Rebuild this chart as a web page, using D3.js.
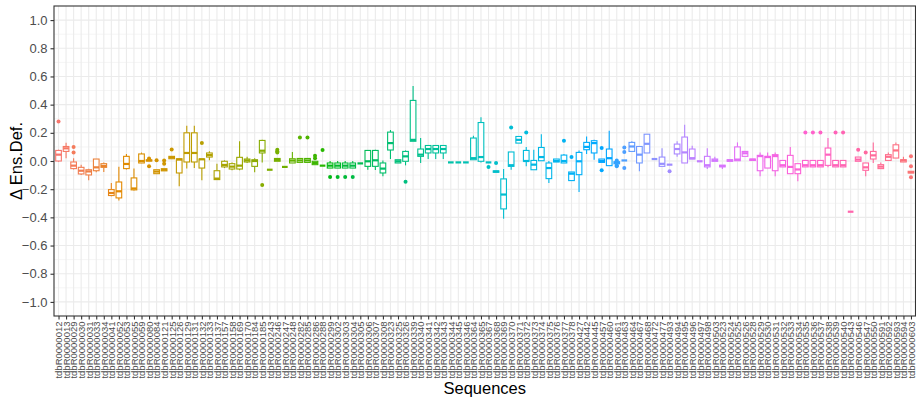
<!DOCTYPE html>
<html>
<head>
<meta charset="utf-8">
<script src="https://cdn.jsdelivr.net/npm/d3@7"></script>
<style>
  body { margin: 0; background: #fff; }
  svg { display: block; font-family: "Liberation Sans", Arial, sans-serif; }
</style>
</head>
<body>
<script>
// sequence ids on the x axis
const categories = [
  "tdbR0000012","tdbR0000013","tdbR0000029","tdbR0000030","tdbR0000031","tdbR0000033","tdbR0000034","tdbR0000041",
  "tdbR0000052","tdbR0000053","tdbR0000055","tdbR0000059","tdbR0000080","tdbR0000084","tdbR0000121","tdbR0000125",
  "tdbR0000126","tdbR0000129","tdbR0000131","tdbR0000132","tdbR0000133","tdbR0000137","tdbR0000157","tdbR0000158",
  "tdbR0000169","tdbR0000170","tdbR0000184","tdbR0000185","tdbR0000243","tdbR0000246","tdbR0000247","tdbR0000248",
  "tdbR0000282","tdbR0000285","tdbR0000286","tdbR0000288","tdbR0000299","tdbR0000302","tdbR0000303","tdbR0000304",
  "tdbR0000305","tdbR0000306","tdbR0000307","tdbR0000308","tdbR0000323","tdbR0000325","tdbR0000326","tdbR0000339",
  "tdbR0000340","tdbR0000341","tdbR0000342","tdbR0000343","tdbR0000344","tdbR0000345","tdbR0000346","tdbR0000364",
  "tdbR0000365","tdbR0000367","tdbR0000368","tdbR0000369","tdbR0000370","tdbR0000371","tdbR0000372","tdbR0000373",
  "tdbR0000374","tdbR0000375","tdbR0000376","tdbR0000377","tdbR0000378","tdbR0000427","tdbR0000442","tdbR0000445",
  "tdbR0000457","tdbR0000460","tdbR0000461","tdbR0000463","tdbR0000464","tdbR0000467","tdbR0000468","tdbR0000472",
  "tdbR0000477","tdbR0000493","tdbR0000494","tdbR0000495","tdbR0000496","tdbR0000497","tdbR0000498","tdbR0000503",
  "tdbR0000523","tdbR0000524","tdbR0000525","tdbR0000526","tdbR0000528","tdbR0000529","tdbR0000530","tdbR0000531",
  "tdbR0000532","tdbR0000533","tdbR0000534","tdbR0000535","tdbR0000536","tdbR0000537","tdbR0000538","tdbR0000539",
  "tdbR0000540","tdbR0000543","tdbR0000546","tdbR0000547","tdbR0000550","tdbR0000591","tdbR0000592","tdbR0000593",
  "tdbR0000594","tdbR0000603"
];

// box statistics, one entry per sequence
const lowerWhisker = [
  -0.005,0.02,-0.06,-0.10,-0.137,-0.08,-0.078,-0.25,-0.281,-0.06,-0.21,-0.015,0.0,-0.09,-0.07,0.016,
  -0.18,-0.054,-0.05,-0.137,0.005,-0.135,-0.05,-0.065,-0.065,-0.015,-0.08,-0.01,-0.062,-0.002,-0.042,-0.014,
  -0.01,-0.01,-0.026,-0.033,-0.05,-0.05,-0.05,-0.05,-0.017,-0.062,-0.064,-0.109,0.014,-0.014,-0.031,0.14,
  -0.014,0.014,0.014,0.014,-0.01,-0.01,-0.01,0.009,-0.01,-0.01,-0.08,-0.41,-0.062,0.127,-0.038,-0.062,
  0.002,-0.156,-0.007,-0.014,-0.139,-0.22,0.05,0.009,-0.01,-0.033,-0.02,0.004,0.068,-0.073,0.057,0.014,
  -0.038,-0.026,0.03,-0.014,0.014,-0.002,-0.057,-0.002,-0.057,-0.002,0.002,0.033,0.004,-0.109,-0.05,-0.109,
  -0.042,-0.09,-0.144,-0.042,-0.042,-0.042,-0.045,-0.042,-0.042,-0.36,-0.002,-0.109,-0.014,-0.054,0.004,0.021,
  -0.007,-0.085
];
const q1 = [
  0.0,0.068,-0.054,-0.092,-0.099,-0.069,-0.045,-0.245,-0.262,-0.054,-0.205,-0.014,0.0,-0.09,-0.07,0.016,
  -0.085,-0.007,-0.007,-0.05,0.028,-0.132,-0.042,-0.057,-0.057,-0.007,-0.038,0.057,-0.062,-0.002,-0.042,-0.014,
  -0.01,-0.01,-0.026,-0.033,-0.05,-0.05,-0.05,-0.05,-0.017,-0.038,-0.038,-0.085,0.078,-0.014,-0.002,0.14,
  0.033,0.057,0.057,0.057,-0.01,-0.01,-0.01,0.009,-0.002,-0.01,-0.08,-0.34,-0.038,0.127,-0.002,-0.062,
  0.002,-0.125,-0.007,-0.014,-0.139,-0.097,0.08,0.057,-0.01,-0.033,-0.02,0.004,0.068,-0.014,0.057,0.014,
  -0.038,-0.026,0.05,-0.014,0.014,-0.002,-0.042,-0.002,-0.042,-0.002,0.002,0.033,0.004,-0.069,-0.05,-0.069,
  -0.042,-0.09,-0.09,-0.042,-0.042,-0.042,-0.031,-0.042,-0.042,-0.36,-0.002,-0.066,0.014,-0.054,0.004,0.021,
  -0.007,-0.085
];
const median = [
  0.045,0.09,-0.033,-0.069,-0.074,-0.045,-0.035,-0.227,-0.215,-0.021,-0.195,0.0,0.004,-0.075,-0.062,0.025,
  0.01,0.057,0.057,0.012,0.042,-0.125,-0.028,-0.04,-0.033,0.004,0.0,0.073,-0.062,0.008,-0.042,0.003,
  0.004,0.004,-0.014,-0.033,-0.033,-0.033,-0.033,-0.033,-0.017,-0.002,0.005,-0.054,0.127,-0.002,0.033,0.15,
  0.045,0.085,0.085,0.085,-0.01,-0.01,-0.01,0.02,0.028,-0.01,-0.075,-0.238,-0.03,0.15,0.0,-0.026,
  0.028,-0.05,0.0,0.0,-0.09,-0.002,0.1,0.127,0.0,0.02,-0.012,0.004,0.103,0.045,0.122,0.014,
  -0.02,-0.026,0.085,0.061,0.02,-0.002,-0.03,0.005,-0.035,0.004,0.01,0.055,0.009,0.035,0.028,0.035,
  -0.03,-0.042,-0.06,-0.03,-0.03,-0.03,0.045,-0.03,-0.03,-0.36,0.01,-0.045,0.04,-0.04,0.03,0.075,
  0.004,-0.08
];
const q3 = [
  0.075,0.103,-0.007,-0.045,-0.062,0.014,-0.019,-0.203,-0.149,0.033,-0.12,0.05,0.008,-0.062,-0.055,0.033,
  0.016,0.2,0.2,0.014,0.057,-0.069,-0.002,-0.019,0.026,0.014,0.009,0.146,-0.062,0.018,-0.042,0.016,
  0.018,0.018,-0.002,-0.033,-0.014,-0.014,-0.014,-0.014,-0.017,0.075,0.075,-0.014,0.205,0.009,0.068,0.43,
  0.085,0.11,0.11,0.11,-0.01,-0.01,-0.01,0.163,0.273,-0.01,-0.07,-0.127,0.064,0.174,0.075,0.004,
  0.096,-0.014,0.014,0.042,-0.078,0.061,0.132,0.144,0.014,0.085,-0.005,0.004,0.132,0.103,0.19,0.014,
  0.028,-0.026,0.12,0.17,0.085,-0.002,0.033,0.014,-0.03,0.009,0.1,0.068,0.014,0.04,0.033,0.045,
  0.004,0.04,-0.019,0.004,0.004,0.004,0.092,0.004,0.004,-0.36,0.028,-0.014,0.068,-0.026,0.045,0.115,
  0.009,-0.073
];
const upperWhisker = [
  0.08,0.13,0.02,-0.026,-0.055,0.014,-0.01,-0.156,-0.04,0.05,-0.054,0.06,0.008,-0.062,-0.055,0.033,
  0.02,0.25,0.25,0.014,0.07,-0.019,0.005,-0.01,0.14,0.03,0.02,0.15,-0.062,0.018,-0.042,0.064,
  0.018,0.018,-0.002,-0.033,0.0,0.0,0.0,0.0,-0.017,0.077,0.08,0.004,0.22,0.009,0.075,0.533,
  0.163,0.11,0.11,0.11,-0.01,-0.01,-0.01,0.18,0.31,-0.01,-0.07,-0.057,0.064,0.174,0.1,0.08,
  0.19,0.0,0.014,0.05,-0.078,0.075,0.174,0.15,0.014,0.215,-0.005,0.004,0.14,0.103,0.19,0.014,
  0.09,-0.026,0.14,0.257,0.108,-0.002,0.09,0.03,-0.03,0.009,0.132,0.068,0.014,0.06,0.06,0.06,
  0.004,0.1,-0.019,0.004,0.004,0.004,0.163,0.004,0.004,-0.36,0.028,-0.014,0.132,-0.01,0.06,0.132,
  0.03,-0.073
];
const outliers = [
  [0.28],[],[0.10,0.06],[],[],[],[],[],[],[],[],[],[0.018,-0.038],[0.005],[0.004,-0.02],[0.082],
  [],[],[],[0.127],[],[],[],[],[],[],[],[-0.17],[],[0.08,0.07,0.06],[],[],
  [0.167],[0.167],[0.037,0.02],[0.078],[-0.113],[-0.113],[-0.113],[-0.113],[],[],[],[],[],[],[-0.147],[],
  [],[],[],[],[],[],[],[],[],[-0.042],[-0.014],[],[0.238],[],[0.203],[],
  [],[],[],[0.144],[0.028],[],[],[],[0.092,-0.066],[],[0.004,-0.03,-0.038],[0.096,0.064,-0.05],[],[],[],[],
  [],[-0.073],[],[],[],[],[],[],[],[],[],[],[],[],[],[],
  [],[],[],[0.203],[0.203],[0.203],[],[0.203],[0.203],[],[0.08],[0.061],[],[],[],[],
  [],[0.033,-0.038,-0.116]
];

const yTicks = [-1.0,-0.8,-0.6,-0.4,-0.2,0.0,0.2,0.4,0.6,0.8,1.0];
const yMinor = [-0.9,-0.7,-0.5,-0.3,-0.1,0.1,0.3,0.5,0.7,0.9];

const width = 916, height = 398;
const panelLeft = 54, panelRight = 915.5, panelTop = 6, panelBottom = 316;

// ggplot-style hue palette (polar LUV)
function hclColor(h, c, l) {
  const hr = h * Math.PI / 180;
  const u = c * Math.cos(hr), v = c * Math.sin(hr);
  const Xn = 95.047, Yn = 100, Zn = 108.883;
  const un = 4 * Xn / (Xn + 15 * Yn + 3 * Zn), vn = 9 * Yn / (Xn + 15 * Yn + 3 * Zn);
  const Y = Yn * (l > 8 ? Math.pow((l + 16) / 116, 3) : l / 903.3);
  const up = u / (13 * l) + un, vp = v / (13 * l) + vn;
  const X = 9 * Y * up / (4 * vp);
  const Z = -X / 3 - 5 * Y + 3 * Y / vp;
  const lin = [
     3.240479 * X - 1.537150 * Y - 0.498535 * Z,
    -0.969256 * X + 1.875992 * Y + 0.041556 * Z,
     0.055648 * X - 0.204043 * Y + 1.057311 * Z
  ].map(t => t / 100);
  const g = lin.map(t => {
    const s = t > 0.0031308 ? 1.055 * Math.pow(t, 1 / 2.4) - 0.055 : 12.92 * t;
    return Math.round(Math.max(0, Math.min(1, s)) * 255);
  });
  return d3.rgb(g[0], g[1], g[2]).formatHex();
}
const n = categories.length;
const colors = categories.map((c, i) => hclColor(15 + 360 * i / n, 100, 65));

const svg = d3.select('body')
  .append('svg')
  .attr('width', width)
  .attr('height', height);

const x = d3.scalePoint().domain(categories).range([panelLeft, panelRight]).padding(0.6);
const y = d3.scaleLinear().domain([-1.1, 1.1]).range([panelBottom, panelTop]);
const boxW = x.step() * 0.75;

// panel background + grid
svg.append('rect')
  .attr('x', panelLeft).attr('y', panelTop)
  .attr('width', panelRight - panelLeft).attr('height', panelBottom - panelTop)
  .attr('fill', '#fff');

svg.append('g').selectAll('line')
  .data(yMinor)
  .enter().append('line')
  .attr('x1', panelLeft).attr('x2', panelRight)
  .attr('y1', d => y(d)).attr('y2', d => y(d))
  .attr('stroke', '#ebebeb').attr('stroke-width', 0.55);

svg.append('g').selectAll('line')
  .data(yTicks)
  .enter().append('line')
  .attr('x1', panelLeft).attr('x2', panelRight)
  .attr('y1', d => y(d)).attr('y2', d => y(d))
  .attr('stroke', '#ebebeb').attr('stroke-width', 1.1);

svg.append('g').selectAll('line')
  .data(categories)
  .enter().append('line')
  .attr('x1', d => x(d)).attr('x2', d => x(d))
  .attr('y1', panelTop).attr('y2', panelBottom)
  .attr('stroke', '#ebebeb').attr('stroke-width', 1.1);

// boxes
const rows = categories.map((c, i) => ({
  cat: c, color: colors[i],
  lw: lowerWhisker[i], q1: q1[i], med: median[i], q3: q3[i], uw: upperWhisker[i],
  out: outliers[i]
}));

const box = svg.append('g').selectAll('g')
  .data(rows)
  .enter().append('g')
  .attr('transform', d => `translate(${x(d.cat)},0)`);

box.append('line')
  .attr('y1', d => y(d.q3)).attr('y2', d => y(d.uw))
  .attr('stroke', d => d.color).attr('stroke-width', 1.1);
box.append('line')
  .attr('y1', d => y(d.q1)).attr('y2', d => y(d.lw))
  .attr('stroke', d => d.color).attr('stroke-width', 1.1);
box.append('rect')
  .attr('x', -boxW / 2).attr('width', boxW)
  .attr('y', d => y(d.q3))
  .attr('height', d => Math.max(0, y(d.q1) - y(d.q3)))
  .attr('fill', '#fff')
  .attr('stroke', d => d.color).attr('stroke-width', 1.1);
box.append('line')
  .attr('x1', -boxW / 2).attr('x2', boxW / 2)
  .attr('y1', d => y(d.med)).attr('y2', d => y(d.med))
  .attr('stroke', d => d.color).attr('stroke-width', 2.2);
box.selectAll('circle')
  .data(d => d.out.map(v => ({v, color: d.color})))
  .enter().append('circle')
  .attr('cx', 0).attr('cy', d => y(d.v)).attr('r', 2)
  .attr('fill', d => d.color);

// panel border
svg.append('rect')
  .attr('x', panelLeft).attr('y', panelTop)
  .attr('width', panelRight - panelLeft).attr('height', panelBottom - panelTop)
  .attr('fill', 'none').attr('stroke', '#333').attr('stroke-width', 1.1);

// axes
const yAxis = svg.append('g')
  .attr('transform', `translate(${panelLeft},0)`)
  .call(d3.axisLeft(y).tickValues(yTicks).tickFormat(d3.format('.1f')).tickSize(3.5).tickPadding(3));
yAxis.select('.domain').remove();
yAxis.selectAll('line').attr('stroke', '#333').attr('stroke-width', 1.1);
yAxis.selectAll('text')
  .attr('fill', '#4d4d4d')
  .style('font-size', '13px')
  .style('font-family', '"Liberation Sans", Arial, sans-serif');

const xAxis = svg.append('g')
  .attr('transform', `translate(0,${panelBottom})`)
  .call(d3.axisBottom(x).tickSize(3.5));
xAxis.select('.domain').remove();
xAxis.selectAll('line').attr('stroke', '#333').attr('stroke-width', 1.1);
xAxis.selectAll('text')
  .attr('transform', 'rotate(-90)')
  .attr('text-anchor', 'end')
  .attr('x', -5.5).attr('y', 0).attr('dy', '0.35em')
  .attr('fill', '#4d4d4d')
  .style('font-size', '9.5px')
  .style('font-family', '"Liberation Sans", Arial, sans-serif');

// titles
svg.append('text')
  .attr('x', (panelLeft + panelRight) / 2).attr('y', 394)
  .attr('text-anchor', 'middle')
  .style('font-size', '16.5px')
  .text('Sequences');

svg.append('text')
  .attr('transform', `translate(22,${(panelTop + panelBottom) / 2}) rotate(-90)`)
  .attr('text-anchor', 'middle')
  .style('font-size', '16.5px')
  .text('Δ Ens.Def.');
</script>
</body>
</html>
